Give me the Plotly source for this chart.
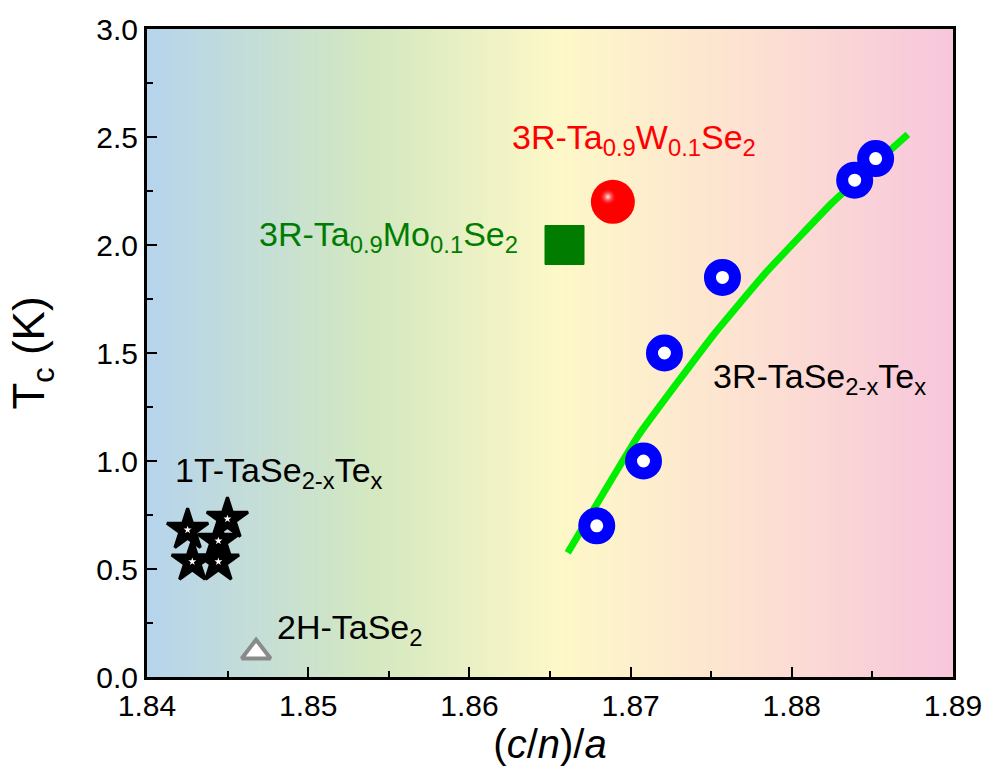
import plotly.graph_objects as go

# ---- data ----
r3_tase_te_x = [1.8679, 1.8708, 1.8721, 1.8757, 1.8839, 1.8852]
r3_tase_te_y = [0.70, 1.00, 1.50, 1.85, 2.30, 2.40]

fit_x = [1.8661, 1.8705, 1.8751, 1.8784, 1.8825, 1.8872]
fit_y = [0.575, 1.12, 1.58, 1.873, 2.195, 2.512]

t1_tase_te_x = [1.84252, 1.84499, 1.84443, 1.84281, 1.84443]
t1_tase_te_y = [0.681, 0.732, 0.630, 0.534, 0.534]

h2_tase2_x = [1.84677]
h2_tase2_y = [0.115]

w_doped_x = [1.8689]
w_doped_y = [2.20]

mo_doped_x = [1.8659]
mo_doped_y = [2.00]

x_ticks = [1.84, 1.85, 1.86, 1.87, 1.88, 1.89]
y_ticks = [0.0, 0.5, 1.0, 1.5, 2.0, 2.5, 3.0]

x_range = [1.84, 1.89]
y_range = [0.0, 3.0]

FONT = "Liberation Sans, Arial, sans-serif"

fig = go.Figure()

# background gradient
fig.add_trace(go.Heatmap(
    x=x_range, y=y_range, z=[[0, 1], [0, 1]],
    zsmooth="best", showscale=False, hoverinfo="skip",
    colorscale=[
        [0.0, "#b6d4ec"],
        [0.28, "#d4e8c0"],
        [0.51, "#fdf8c8"],
        [0.73, "#fde3d1"],
        [1.0, "#f7c6dc"],
    ],
))

# fit line
fig.add_trace(go.Scatter(
    x=fit_x, y=fit_y, mode="lines",
    line=dict(color="#00ee00", width=7, shape="spline", smoothing=0.3),
    hoverinfo="skip", showlegend=False,
))

# 3R-TaSe2-xTex
fig.add_trace(go.Scatter(
    x=r3_tase_te_x, y=r3_tase_te_y, mode="markers",
    marker=dict(symbol="circle", size=25, color="white",
                line=dict(color="#0000ff", width=12)),
    showlegend=False,
))

# 1T-TaSe2-xTex stars
fig.add_trace(go.Scatter(
    x=t1_tase_te_x, y=t1_tase_te_y, mode="markers",
    marker=dict(symbol="star", size=31, color="black",
                line=dict(color="black", width=3)),
    showlegend=False,
))
fig.add_trace(go.Scatter(
    x=t1_tase_te_x, y=t1_tase_te_y, mode="markers",
    marker=dict(symbol="star", size=6, color="white", line=dict(width=0)),
    showlegend=False, hoverinfo="skip",
))

# 2H-TaSe2
fig.add_trace(go.Scatter(
    x=h2_tase2_x, y=h2_tase2_y, mode="markers",
    marker=dict(symbol="triangle-up", size=25, color="white",
                line=dict(color="#8a8a8a", width=4)),
    showlegend=False,
))

# Mo doped
fig.add_trace(go.Scatter(
    x=mo_doped_x, y=mo_doped_y, mode="markers",
    marker=dict(symbol="square", size=39, color="#007d00",
                line=dict(color="#007d00", width=1)),
    showlegend=False,
))

# W doped sphere
fig.add_trace(go.Scatter(
    x=w_doped_x, y=w_doped_y, mode="markers",
    marker=dict(symbol="circle", size=44, color="#ff0000", line=dict(width=0)),
    showlegend=False,
))
# specular highlight (offset from the sphere centre)
dx = (x_range[1] - x_range[0]) * 5 / 812
dy = (y_range[1] - y_range[0]) * 5 / 654
fig.add_trace(go.Scatter(
    x=[v - dx for v in w_doped_x], y=[v + dy for v in w_doped_y], mode="markers",
    marker=dict(symbol="circle", size=17, color="rgba(255,0,0,0)",
                gradient=dict(type="radial", color="white"), line=dict(width=0)),
    showlegend=False, hoverinfo="skip",
))

ann_font = dict(family=FONT, size=34)
annotations = [
    dict(x=1.86254, y=2.49, text="3R-Ta<sub>0.9</sub>W<sub>0.1</sub>Se<sub>2</sub>",
         font=dict(ann_font, color="#ff0000")),
    dict(x=1.84684, y=2.04, text="3R-Ta<sub>0.9</sub>Mo<sub>0.1</sub>Se<sub>2</sub>",
         font=dict(ann_font, color="#007d00")),
    dict(x=1.87498, y=1.38, text="3R-TaSe<sub>2-x</sub>Te<sub>x</sub>",
         font=dict(ann_font, color="black")),
    dict(x=1.8416, y=0.945, text="1T-TaSe<sub>2-x</sub>Te<sub>x</sub>",
         font=dict(ann_font, color="black")),
    dict(x=1.84794, y=0.22, text="2H-TaSe<sub>2</sub>",
         font=dict(ann_font, color="black")),
]
for a in annotations:
    a.update(xref="x", yref="y", xanchor="left", yanchor="middle",
             showarrow=False)

fig.update_layout(
    width=994, height=783,
    margin=dict(l=147, r=35, t=23, b=106),
    paper_bgcolor="white", plot_bgcolor="white",
    showlegend=False,
    annotations=annotations,
    font=dict(family=FONT, color="black"),
)

axis_common = dict(
    showgrid=False, zeroline=False,
    showline=True, linecolor="black", linewidth=3, mirror=True,
    ticks="inside", ticklen=10, tickwidth=2, tickcolor="black",
)

fig.update_xaxes(
    range=x_range, tickvals=x_ticks,
    ticktext=[f"{v:.2f}" for v in x_ticks],
    tickfont=dict(family=FONT, size=30),
    minor=dict(ticks="inside", ticklen=6, tickwidth=2, tickcolor="black", dtick=0.005),
    title=dict(text="(<i>c</i>/<i>n</i>)/<i>a</i>",
               font=dict(family=FONT, size=40),
               standoff=6),
    **axis_common,
)
fig.update_yaxes(
    range=y_range, tickvals=y_ticks,
    ticktext=[f"{v:.1f}" for v in y_ticks],
    tickfont=dict(family=FONT, size=30),
    minor=dict(ticks="inside", ticklen=6, tickwidth=2, tickcolor="black", dtick=0.25),
    title=dict(text="T<sub>c</sub> (K)", font=dict(family=FONT, size=44), standoff=38),
    **axis_common,
)

fig.write_html("out.html")
